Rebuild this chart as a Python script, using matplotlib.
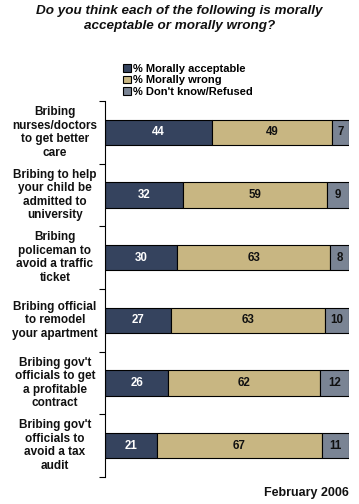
import matplotlib
matplotlib.use("Agg")
import matplotlib.pyplot as plt
from matplotlib.patches import Patch
import numpy as np

plt.rcParams['font.family'] = ['Liberation Sans', 'DejaVu Sans']

categories = [
    "Bribing\nnurses/doctors\nto get better\ncare",
    "Bribing to help\nyour child be\nadmitted to\nuniversity",
    "Bribing\npoliceman to\navoid a traffic\nticket",
    "Bribing official\nto remodel\nyour apartment",
    "Bribing gov't\nofficials to get\na profitable\ncontract",
    "Bribing gov't\nofficials to\navoid a tax\naudit",
]
acceptable = [44, 32, 30, 27, 26, 21]
wrong = [49, 59, 63, 63, 62, 67]
dont_know = [7, 9, 8, 10, 12, 11]
series_names = ["% Morally acceptable", "% Morally wrong", "% Don't know/Refused"]
colors = ["#35435E", "#C8B682", "#7A8494"]
text_colors = ["white", "#111111", "#111111"]

fig = plt.figure(figsize=(3.59, 5.04), dpi=100)
ax = fig.add_axes([105 / 359, 1 - 477 / 504, 244 / 359, 376 / 504])

# shares normalised to 100 so every bar spans the full width
series = np.array([acceptable, wrong, dont_know], dtype=float)
totals = series.sum(axis=0)
shares = series / totals * 100
y = np.arange(len(categories))
left = np.zeros(len(categories))
for i in range(3):
    bars = ax.barh(y, shares[i], left=left, height=0.4, color=colors[i],
                   edgecolor="black", linewidth=0.8)
    for j, b in enumerate(bars):
        ax.text(left[j] + shares[i][j] / 2, y[j], str(int(series[i][j])),
                ha="center", va="center", fontsize=8.3, fontweight="bold",
                color=text_colors[i])
    left += shares[i]

ax.set_xlim(0, 100)
ax.set_ylim(len(categories) - 0.5, -0.5)
ax.set_xticks([])
ax.set_yticks(np.arange(len(categories) + 1) - 0.5)
ax.set_yticklabels([])
ax.tick_params(axis="y", length=4, width=0.8, direction="out")
for s in ["top", "right", "bottom"]:
    ax.spines[s].set_visible(False)
ax.spines["left"].set_linewidth(0.8)

for j, c in enumerate(categories):
    ax.text(-0.205, y[j], c, transform=ax.get_yaxis_transform(),
            ha="center", va="center", fontsize=8.5, fontweight="bold",
            linespacing=1.18, color="#111111")

fig.text(0.5, 1 - 5 / 504, "Do you think each of the following is morally\nacceptable or morally wrong?",
         ha="center", va="top", fontsize=9.7, fontweight="bold", style="italic",
         linespacing=1.3, color="#111111")

handles = [Patch(facecolor=c, edgecolor="black", linewidth=0.8) for c in colors]
fig.legend(handles, series_names, loc="upper left", bbox_to_anchor=(115 / 359, 1 - 56 / 504),
           frameon=False, prop={"weight": "bold", "size": 8},
           handlelength=0.7, handleheight=0.7, handletextpad=0.2,
           labelspacing=0.15, borderpad=0.2)

fig.text(349 / 359, 1 - 493 / 504, "February 2006", ha="right", va="center",
         fontsize=9, fontweight="bold", color="#111111")

fig.savefig("out.png", dpi=100)
